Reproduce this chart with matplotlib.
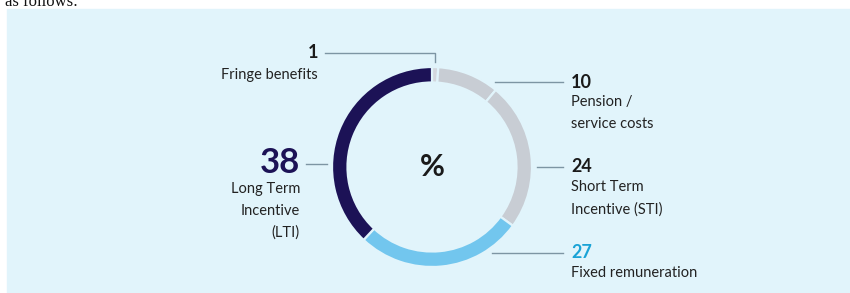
import matplotlib.pyplot as plt
from matplotlib.patches import Rectangle

# data (percent of total remuneration)
labels = ["Fringe benefits", "Pension /\nservice costs", "Short Term\nIncentive (STI)",
          "Fixed remuneration", "Long Term\nIncentive\n(LTI)"]
values = [1, 10, 24, 27, 38]
colors = ["#d3d7dd", "#c8cdd4", "#c8cdd4", "#72c6ee", "#1c1256"]
num_colors = ["#1a1a1a", "#1a1a1a", "#1a1a1a", "#1aa3d6", "#1c1256"]

BG = "#e1f4fb"
LINE = "#7d95a3"
W, H = 850, 293

plt.rcParams['font.family'] = ['Lato', 'DejaVu Sans']

fig = plt.figure(figsize=(W / 100, H / 100), dpi=100)
ax = fig.add_axes([0, 0, 1, 1])

def py(y):
    # pixel row (from top) -> data y
    return H - y

ax.add_patch(Rectangle((7, 0), W - 7, py(9), color=BG, zorder=0))
ax.text(5, py(6), "as follows:", family='Liberation Serif', fontsize=12,
        color="#111111", va='baseline', ha='left')

cx, cy = 432, py(167)
ax.pie(values, colors=colors, startangle=90, counterclock=False,
       center=(cx, cy), radius=100, frame=True,
       wedgeprops=dict(width=15.5, edgecolor=BG, linewidth=1.6))
ax.set_xlim(0, W)
ax.set_ylim(0, H)
ax.set_aspect('equal')
ax.axis('off')

ax.text(cx, cy, "%", fontsize=22, fontweight='bold', color="#1a1a1a",
        ha='center', va='center')

LBL = 10.5
SP = 1.7

# Fringe benefits (top, label to the left)
ax.plot([325, 435, 435], [py(53), py(53), py(62)], color=LINE, lw=1)
ax.text(318, py(52), str(values[0]), fontsize=13, fontweight='bold',
        color=num_colors[0], ha='right', va='center')
ax.text(318, py(75), labels[0], fontsize=LBL, color="#222222", ha='right', va='center')

# right side labels
right = [(1, 82, 495), (2, 167, 537), (3, 253, 492)]
for i, ly, x0 in right:
    ax.plot([x0, 563], [py(ly), py(ly)], color=LINE, lw=1)
    ax.text(571, py(ly), str(values[i]), fontsize=13, fontweight='bold',
            color=num_colors[i], ha='left', va='center')
    ax.text(571, py(ly + 13), labels[i], fontsize=LBL, color="#222222",
            ha='left', va='top', linespacing=SP)

# LTI (left)
ax.plot([306, 327], [py(164), py(164)], color=LINE, lw=1)
ax.text(300, py(163), str(values[4]), fontsize=25, fontweight='bold',
        color=num_colors[4], ha='right', va='center')
ax.text(300, py(182), labels[4], fontsize=LBL, color="#222222",
        ha='right', va='top', linespacing=SP)

fig.savefig("out.png", dpi=100, facecolor="white")
